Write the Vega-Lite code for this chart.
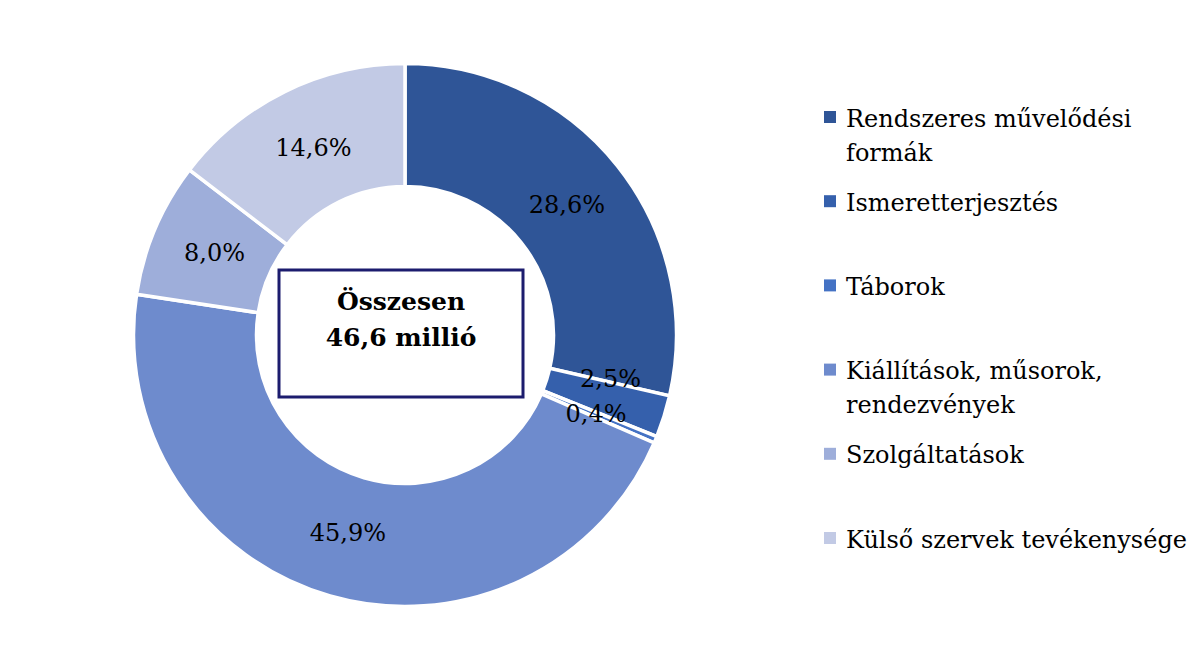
{
  "$schema": "https://vega.github.io/schema/vega-lite/v6.json",
  "background": "white",
  "padding": {"left": 7, "top": 10, "right": 0, "bottom": 0},
  "config": {
    "view": {"stroke": null},
    "locale": {"number": {"decimal": ",", "thousands": " ", "grouping": [3], "currency": ["", ""]}}
  },
  "data": {
    "values": [
      {"cat": "Rendszeres művelődési formák", "label": "Rendszeres művelődési\nformák", "share": 0.286},
      {"cat": "Ismeretterjesztés", "label": "Ismeretterjesztés", "share": 0.025},
      {"cat": "Táborok", "label": "Táborok", "share": 0.004},
      {"cat": "Kiállítások, műsorok, rendezvények", "label": "Kiállítások, műsorok,\nrendezvények", "share": 0.459},
      {"cat": "Szolgáltatások", "label": "Szolgáltatások", "share": 0.080},
      {"cat": "Külső szervek tevékenysége", "label": "Külső szervek tevékenysége", "share": 0.146}
    ]
  },
  "transform": [{"window": [{"op": "row_number", "as": "rank"}]}],
  "spacing": 21,
  "hconcat": [
    {
      "width": 796,
      "height": 650,
      "layer": [
        {
          "mark": {"type": "arc", "outerRadius": 271.5, "innerRadius": 148.5, "stroke": "white", "strokeWidth": 3.5},
          "encoding": {
            "theta": {"field": "share", "type": "quantitative", "stack": true},
            "order": {"field": "rank", "type": "quantitative"},
            "color": {
              "field": "cat", "type": "nominal",
              "scale": {
                "domain": ["Rendszeres művelődési formák", "Ismeretterjesztés", "Táborok", "Kiállítások, műsorok, rendezvények", "Szolgáltatások", "Külső szervek tevékenysége"],
                "range": ["#2F5597", "#3560AC", "#4472C4", "#6E8BCD", "#9EAEDA", "#C2CAE5"]
              },
              "legend": null
            }
          }
        },
        {
          "mark": {"type": "text", "radius": 207, "font": "DejaVu Serif", "fontSize": 24, "color": "#000000", "align": "center", "baseline": "middle"},
          "encoding": {
            "theta": {"field": "share", "type": "quantitative", "stack": true},
            "order": {"field": "rank", "type": "quantitative"},
            "text": {"condition": {"test": "datum.cat === 'Ismeretterjesztés'", "value": ""}, "field": "share", "type": "quantitative", "format": ".1%"}
          }
        },
        {
          "mark": {"type": "text", "radius": 207, "font": "DejaVu Serif", "fontSize": 24, "color": "#000000", "align": "center", "baseline": "middle", "dx": 8, "dy": -17},
          "encoding": {
            "theta": {"field": "share", "type": "quantitative", "stack": true},
            "order": {"field": "rank", "type": "quantitative"},
            "text": {"condition": {"test": "datum.cat !== 'Ismeretterjesztés'", "value": ""}, "field": "share", "type": "quantitative", "format": ".1%"}
          }
        },
        {
          "data": {"values": [{}]},
          "mark": {"type": "point", "shape": "M-1,-0.52H1V0.52H-1Z", "size": 59536, "filled": false, "stroke": "#1C1C6E", "strokeWidth": 3, "opacity": 1, "xOffset": -4, "yOffset": -1.5}
        },
        {
          "data": {"values": [{}]},
          "mark": {"type": "text", "text": ["Összesen", "46,6 millió"], "font": "DejaVu Serif", "fontWeight": "bold", "fontSize": 25, "align": "center", "baseline": "top", "lineHeight": 36, "dx": -4, "dy": -45, "color": "#000000"}
        }
      ]
    },
    {
      "width": 2,
      "height": 635,
      "encoding": {
        "y": {
          "field": "cat", "type": "nominal",
          "sort": {"field": "rank", "op": "min"},
          "scale": {"type": "point", "padding": 0, "range": [107, 528]},
          "axis": null
        }
      },
      "layer": [
        {
          "mark": {"type": "point", "shape": "square", "size": 144, "filled": true, "opacity": 1},
          "encoding": {
            "color": {
              "field": "cat", "type": "nominal",
              "scale": {
                "domain": ["Rendszeres művelődési formák", "Ismeretterjesztés", "Táborok", "Kiállítások, műsorok, rendezvények", "Szolgáltatások", "Külső szervek tevékenysége"],
                "range": ["#2F5597", "#3560AC", "#4472C4", "#6E8BCD", "#9EAEDA", "#C2CAE5"]
              },
              "legend": null
            }
          }
        },
        {
          "mark": {"type": "text", "align": "left", "baseline": "alphabetic", "dx": 16, "dy": 9.5, "font": "DejaVu Serif", "fontSize": 24, "lineBreak": "\n", "lineHeight": 34, "color": "#000000"},
          "encoding": {"text": {"field": "label", "type": "nominal"}}
        }
      ]
    }
  ]
}
